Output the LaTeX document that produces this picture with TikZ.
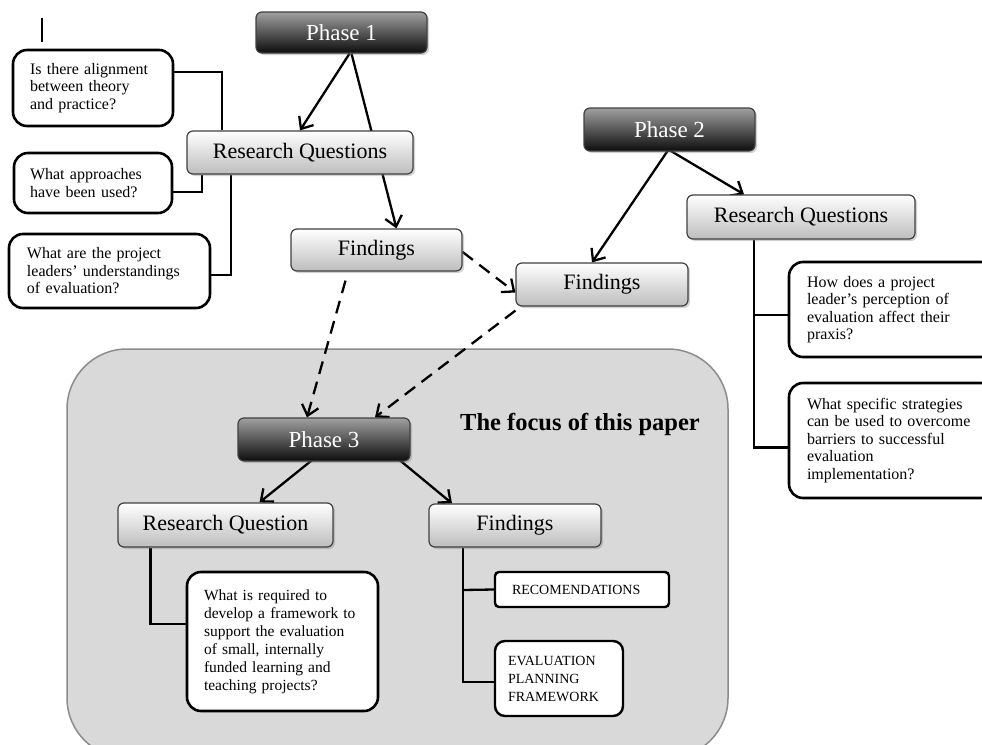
\documentclass[tikz,border=0pt]{standalone}
\usepackage{fontspec}
\setmainfont{Liberation Serif}
\usetikzlibrary{arrows.meta,shadows}
\pgfdeclarelayer{back}
\pgfdeclarelayer{lines}
\pgfsetlayers{back,lines,main}
\definecolor{regionfill}{HTML}{D9D9D9}
\definecolor{regionline}{HTML}{8C8C8C}
\definecolor{lightbot}{HTML}{BDBDBD}
\definecolor{darktop}{HTML}{A0A0A0}
\definecolor{darkbot}{HTML}{0D0D0D}
\tikzset{
  conn/.style={line width=2.3pt, line join=miter},
  arr/.style={conn, -{Straight Barb[length=10pt,width=17pt,line width=2.3pt]}},
  dasharr/.style={arr, dash pattern=on 13pt off 8pt},
  headbox/.style={draw=black!75, line width=1.2pt, rounded corners=6pt,
     drop shadow={opacity=0.35, shadow xshift=2pt, shadow yshift=-2pt},
     font=\fontsize{22}{26}\selectfont, align=center, inner sep=0pt},
  lightbox/.style={headbox, top color=white, bottom color=lightbot},
  darkbox/.style={headbox, top color=darktop, bottom color=darkbot, text=white,
     font=\fontsize{23}{27}\selectfont},
  qbox/.style={draw=black, line width=2.6pt, rounded corners=14pt, fill=white,
     align=left, inner ysep=0pt, font=\fontsize{16}{17.5}\selectfont},
  capbox/.style={draw=black, line width=2.4pt, rounded corners=4pt, fill=white,
     align=left, inner ysep=0pt, font=\fontsize{14}{18}\selectfont},
}
\begin{document}
\begin{tikzpicture}[x=1pt,y=-1pt]
\useasboundingbox (0,0) rectangle (982,744);
\begin{pgfonlayer}{back}
\clip (0,0) rectangle (982,744);
\fill[white] (0,0) rectangle (982,744);
\draw[fill=regionfill, draw=regionline, line width=1.5pt, rounded corners=60pt]
  (67,349) rectangle (728,758);
\end{pgfonlayer}

% cursor mark
\draw[line width=1.3pt] (42,18) -- (42,42);

% nodes
\node[darkbox, minimum width=171pt, minimum height=41pt] (p1) at (341.5,32.5) {Phase 1};
\node[lightbox, minimum width=226pt, minimum height=43pt] (rq1) at (300,152.5) {Research Questions};
\node[lightbox, minimum width=171pt, minimum height=42pt] (f1) at (376.5,250) {Findings};

\node[qbox, minimum height=76pt, text width=126pt, inner xsep=17pt] (q1) at (93,88)
  {Is there alignment\\between theory\\and practice?};
\node[qbox, minimum height=60pt, text width=126pt, inner xsep=16pt] (q2) at (93,183)
  {What approaches\\have been used?};
\node[qbox, minimum height=74pt, text width=165pt, inner xsep=18pt] (q3) at (109.5,271)
  {What are the project\\leaders’ understandings\\of evaluation?};

\node[darkbox, minimum width=171pt, minimum height=43pt] (p2) at (669.5,129.5) {Phase 2};
\node[lightbox, minimum width=228pt, minimum height=44pt] (rq2) at (801,217) {Research Questions};
\node[lightbox, minimum width=172pt, minimum height=43pt] (f2) at (602,284.5) {Findings};

\node[qbox, minimum height=95pt, text width=170pt, inner xsep=18pt] (q4) at (892,309.5)
  {How does a project\\leader’s perception of\\evaluation affect their\\praxis?};
\node[qbox, minimum height=115pt, text width=170pt, inner xsep=18pt] (q5) at (892,440.5)
  {What specific strategies\\can be used to overcome\\barriers to successful\\evaluation\\implementation?};

\node[font=\bfseries\fontsize{24.5}{28}\selectfont, inner sep=0pt] (focus) at (580,424) {The focus of this paper};

\node[darkbox, minimum width=172pt, minimum height=43pt] (p3) at (324,439.5) {Phase 3};
\node[lightbox, minimum width=215pt, minimum height=44pt] (rq3) at (225.5,525) {Research Question};
\node[lightbox, minimum width=172pt, minimum height=43pt] (f3) at (515,525.5) {Findings};

\node[qbox, minimum height=139pt, text width=157pt, inner xsep=17pt, font=\fontsize{15.5}{18}\selectfont] (q6) at (282.5,641.5)
  {What is required to\\develop a framework to\\support the evaluation\\of small, internally\\funded learning and\\teaching projects?};
\node[capbox, minimum height=35pt, text width=140pt, inner xsep=17pt] (rec) at (582,589.5)
  {RECOMENDATIONS};
\node[capbox, minimum height=75pt, text width=102pt, inner xsep=13pt, rounded corners=10pt] (eval) at (559,678.5)
  {EVALUATION\\PLANNING\\FRAMEWORK};

% connectors
\begin{pgfonlayer}{lines}
\draw[arr] ([xshift=8pt]p1.south) -- (rq1.north);
\draw[arr] ([xshift=10pt]p1.south) -- ([xshift=20pt]f1.north);
\draw[conn] ([yshift=16pt]q1.east) -| (rq1.north -| 222,0);
\draw[conn] ([xshift=-98pt]rq1.south) |- (q2.east |- 0,192);
\draw[conn] ([xshift=-69pt]rq1.south) |- ([yshift=-4pt]q3.east);

\draw[dasharr] ([yshift=-2pt]f1.east) -- ([yshift=-8pt]f2.west);
\draw[dasharr] ([xshift=-31pt,yshift=-9pt]f1.south) -- ([xshift=-17pt]p3.north);
\draw[dasharr] ([yshift=-4pt]f2.south west) -- ([xshift=51pt]p3.north);

\draw[arr] ([xshift=-1pt,yshift=2pt]p2.south) -- ([xshift=-10pt]f2.north);
\draw[arr] ([xshift=-1pt,yshift=2pt]p2.south) -- ([xshift=-57pt]rq2.north);
\draw[conn] ([xshift=-47pt]rq2.south) |- ([yshift=-7pt]q5.west);
\draw[conn] (754,315) -- ([yshift=-5.5pt]q4.west);

\draw[arr] ([yshift=-11pt]p3.center) -- ([xshift=34pt]rq3.north);
\draw[arr] ([xshift=64pt,yshift=-11pt]p3.center) -- ([xshift=-63pt]f3.north);
\draw[conn] ([xshift=-75pt]rq3.south) |- ([yshift=17.5pt]q6.west);
\draw[conn] ([xshift=-52pt]f3.south) |- ([yshift=-3.5pt]eval.west);
\draw[conn] (463,590) -- (rec.west);
\end{pgfonlayer}
\end{tikzpicture}
\end{document}
